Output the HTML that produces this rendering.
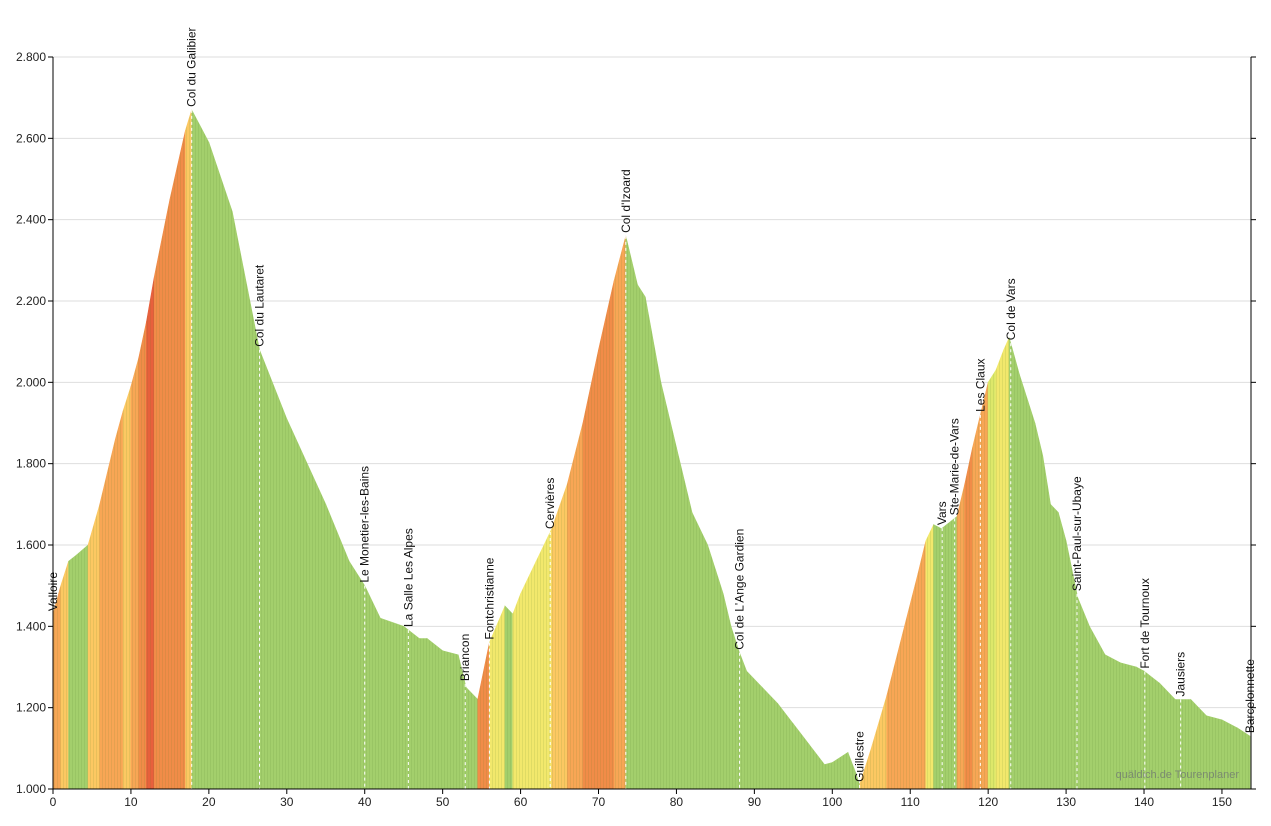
<!DOCTYPE html>
<html><head><meta charset="utf-8"><style>
html,body{margin:0;padding:0;background:#fff;}
svg{display:block;font-family:"Liberation Sans",sans-serif;}
</style></head><body>
<svg id="chart" width="1271" height="826" viewBox="0 0 1271 826"></svg>
<script>
const kms=[0,1,2,3,4.5,6,8,9,10,11,12,13,15,17,17.8,20,23,26.5,30,35,38,40,42,45,47,48,50,52,53,54.5,56,58,59,60,62,64,66,68,70,72,73.5,75,76,78,80,82,84,85,86,87,88,89,91,93,95,97,99,100,102,103,103.5,105,107,109,111,112,113,114,116,117,118,119,120,121,122,122.7,124,126,127,128,129,130,131.5,133,135,137,139,140,142,144,146,148,150,152,153.6];
const elevs=[1430,1500,1560,1575,1600,1700,1860,1930,1990,2060,2150,2260,2450,2620,2670,2590,2420,2080,1910,1700,1560,1500,1420,1400,1370,1370,1340,1330,1250,1220,1360,1450,1430,1480,1560,1640,1750,1900,2080,2250,2360,2240,2210,2000,1840,1680,1600,1540,1480,1400,1340,1290,1250,1210,1160,1110,1060,1065,1090,1040,1010,1100,1230,1380,1530,1610,1650,1640,1670,1750,1840,1920,2000,2030,2080,2110,2020,1900,1820,1700,1680,1610,1470,1400,1330,1310,1300,1290,1260,1220,1220,1180,1170,1150,1130];
const placeNames=["Valloire","Col du Galibier","Col du Lautaret","Le Monetier-les-Bains","La Salle Les Alpes","Briancon","Fontchristianne","Cervières","Col d'Izoard","Col de L'Ange Gardien","Guillestre","Vars","Ste-Marie-de-Vars","Les Claux","Col de Vars","Saint-Paul-sur-Ubaye","Fort de Tournoux","Jausiers","Barcelonnette"];
const placeKms=[0,17.8,26.5,40,45.6,52.9,56,63.8,73.5,88.1,103.5,114.1,115.7,119,122.9,131.4,140.1,144.7,153.6];
const yTicks=[1000,1200,1400,1600,1800,2000,2200,2400,2600,2800];
const xTicks=[0,10,20,30,40,50,60,70,80,90,100,110,120,130,140,150];

const NS="http://www.w3.org/2000/svg";
const svg=document.getElementById('chart');
const X0=53,PX=7.793,Y0=789,PY=732/1800,XMAX=153.6;
const xs=k=>X0+k*PX, ys=e=>Y0-(e-1000)*PY;
function mk(tag,attrs,parent){const el=document.createElementNS(NS,tag);for(const k in attrs)el.setAttribute(k,attrs[k]);(parent||svg).appendChild(el);return el;}
function elevAt(k){for(let i=1;i<kms.length;i++){if(k<=kms[i]){const t=(k-kms[i-1])/(kms[i]-kms[i-1]);return elevs[i-1]+t*(elevs[i]-elevs[i-1]);}}return elevs[elevs.length-1];}
function col(g){if(g<2)return"#a3cf6c";if(g<4)return"#dde86a";if(g<5.5)return"#f2e86c";if(g<7)return"#fcc862";if(g<8.5)return"#f8a655";if(g<10)return"#f18c48";return"#e8603c";}

yTicks.forEach(v=>{const g=mk('line',{x1:X0,x2:1251,y1:ys(v),y2:ys(v),stroke:'#dedede','stroke-width':1});});

const gArea=mk('g',{});


for(let i=1;i<kms.length;i++){
  const a=kms[i-1],b=kms[i],ea=elevs[i-1],eb=elevs[i];
  const g=(eb-ea)/((b-a)*1000)*100;
  const p=mk('polygon',{points:`${xs(a)},${Y0} ${xs(a)},${ys(ea)} ${xs(b)},${ys(eb)} ${xs(b)},${Y0}`,fill:col(g),stroke:col(g),'stroke-width':0.6},gArea);
  
  
}
const defs=mk('defs',{});
const pat=mk('pattern',{id:'st',width:3,height:10,patternUnits:'userSpaceOnUse'},defs);
mk('rect',{x:0,y:0,width:1,height:10,fill:'rgba(80,120,40,0.12)'},pat);
let pts=`${X0},${Y0} `+kms.map((k,i)=>`${xs(k)},${ys(elevs[i])}`).join(' ')+` ${xs(XMAX)},${Y0}`;
mk('polygon',{points:pts,fill:'url(#st)'});

placeNames.forEach((n,i)=>{
  const k=placeKms[i],x=xs(k),yt=ys(elevAt(k));
  if(i>0&&i<placeNames.length-1){const l=mk('line',{x1:x,x2:x,y1:yt,y2:Y0,stroke:'#fff','stroke-width':1,'stroke-dasharray':'3,3'});}
  const t=mk('text',{x:0,y:0,transform:`translate(${x+4},${yt-3}) rotate(-90)`,'font-size':12,fill:'#111'});
  t.textContent=n;
  
  
});

const ax=mk('line',{x1:X0,x2:X0,y1:57,y2:Y0,stroke:'#000'});
const ax2=mk('line',{x1:1251,x2:1251,y1:57,y2:Y0,stroke:'#000'});
const ax3=mk('line',{x1:X0,x2:1251,y1:Y0,y2:Y0,stroke:'#000'});
yTicks.forEach(v=>{
  const y=ys(v);
  mk('line',{x1:X0-5,x2:X0,y1:y,y2:y,stroke:'#000'});
  mk('line',{x1:1251,x2:1256,y1:y,y2:y,stroke:'#000'});
  const t=mk('text',{x:X0-7,y:y+4,'text-anchor':'end','font-size':12,fill:'#222'});
  t.textContent=(v/1000).toFixed(3);
  
  
});
xTicks.forEach(v=>{
  const x=xs(v);
  mk('line',{x1:x,x2:x,y1:Y0,y2:Y0+5,stroke:'#000'});
  const t=mk('text',{x:x,y:Y0+17,'text-anchor':'middle','font-size':12,fill:'#222'});
  t.textContent=v;
  
  
});
const wm=mk('text',{x:1239,y:778,'text-anchor':'end','font-size':11,fill:'#7a8a70'});
wm.textContent='quäldich.de Tourenplaner';


</script>
</body></html>
